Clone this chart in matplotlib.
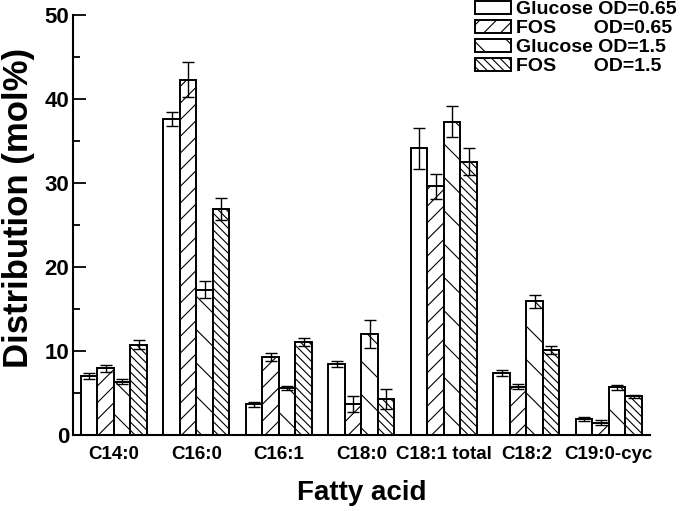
import matplotlib
matplotlib.use("Agg")
import matplotlib.pyplot as plt
import numpy as np

plt.rcParams['font.family'] = ['Liberation Sans', 'DejaVu Sans']
plt.rcParams['font.weight'] = 'bold'
plt.rcParams['hatch.linewidth'] = 0.8

acids = ["C14:0", "C16:0", "C16:1", "C18:0", "C18:1 total", "C18:2", "C19:0-cyc"]
series = ["Glucose OD=0.65", "FOS       OD=0.65", "Glucose OD=1.5", "FOS       OD=1.5"]

glc_065 = [7.0, 37.6, 3.65, 8.45, 34.1, 7.35, 1.85]
fos_065 = [7.9, 42.3, 9.3, 3.65, 29.6, 5.75, 1.45]
glc_15 = [6.35, 17.3, 5.6, 12.0, 37.3, 15.9, 5.65]
fos_15 = [10.75, 26.9, 11.05, 4.25, 32.5, 10.1, 4.6]

glc_065_err = [0.35, 0.85, 0.3, 0.4, 2.4, 0.4, 0.25]
fos_065_err = [0.4, 2.05, 0.5, 0.95, 1.5, 0.3, 0.3]
glc_15_err = [0.3, 1.0, 0.25, 1.7, 1.85, 0.8, 0.3]
fos_15_err = [0.5, 1.3, 0.5, 1.2, 1.6, 0.45, 0.2]

values = [glc_065, fos_065, glc_15, fos_15]
errors = [glc_065_err, fos_065_err, glc_15_err, fos_15_err]
hatches = ["", "//", "\\", "\\\\\\\\"]

fig = plt.figure(figsize=(6.8, 5.11), dpi=100)
ax = fig.add_axes([0.108, 0.149, 0.848, 0.822])

x = np.arange(len(acids))
w = 0.2
for i in range(4):
    ax.bar(x + (i - 1.5) * w, values[i], w, yerr=errors[i], color="white",
           edgecolor="black", linewidth=1.4, hatch=hatches[i], label=series[i],
           error_kw=dict(ecolor="black", elinewidth=1.0, capsize=4.5, capthick=1.0))

ax.set_xlim(-0.49, 6.5)
ax.set_ylim(0, 50)
ax.set_xticks(x)
ax.set_xticklabels(acids, fontsize=13.5, fontweight="bold")
ax.tick_params(axis="x", length=0, pad=8)
ax.set_yticks([0, 10, 20, 30, 40, 50])
ax.set_yticks([5, 15, 25, 35, 45], minor=True)
ax.tick_params(axis="y", which="major", direction="in", length=9, width=1.3, labelsize=16, pad=3)
ax.tick_params(axis="y", which="minor", direction="in", length=5, width=1.3)
for lbl in ax.get_yticklabels():
    lbl.set_fontweight("bold")

ax.spines["top"].set_visible(False)
ax.spines["right"].set_visible(False)
ax.spines["left"].set_linewidth(1.5)
ax.spines["bottom"].set_linewidth(1.5)

ax.set_ylabel("Distribution (mol%)", fontsize=25, fontweight="bold")
ax.yaxis.set_label_coords(-0.066, 0.54)
ax.set_xlabel("Fatty acid", fontsize=20, fontweight="bold", labelpad=12)

leg = ax.legend(loc="upper left", bbox_to_anchor=(0.698, 0.998), bbox_transform=fig.transFigure,
                frameon=False, fontsize=14, handlelength=1.85, handleheight=0.62,
                handletextpad=0.3, labelspacing=0.1, borderpad=0, borderaxespad=0)
for t in leg.get_texts():
    t.set_fontweight("bold")

fig.savefig("out.png", dpi=100)
